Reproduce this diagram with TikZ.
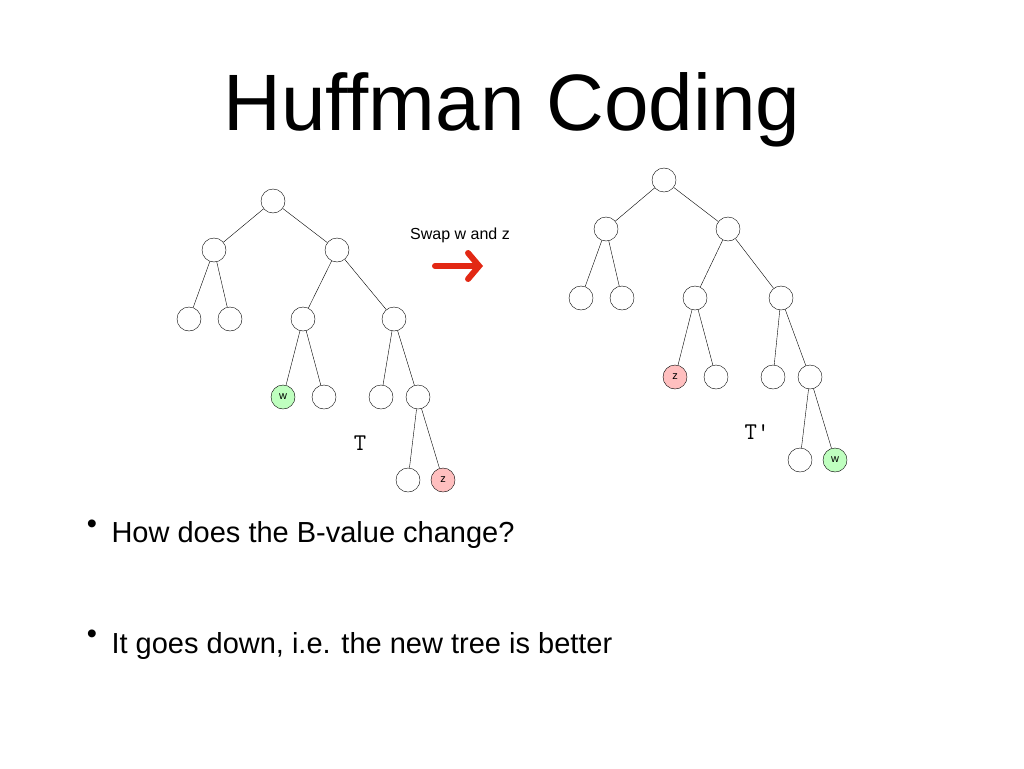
\documentclass[tikz,border=0pt]{standalone}
\usetikzlibrary{arrows.meta}
\usepackage{fontspec}
\setmainfont{Liberation Sans}
\definecolor{arrred}{RGB}{226,40,20}
\begin{document}
\begin{tikzpicture}[x=1pt,y=-1pt,
 nd/.style={circle,draw,thin,minimum size=24pt,inner sep=0pt,font=\fontsize{11}{11}\selectfont},
 gw/.style={nd,fill=green!25},
 rz/.style={nd,fill=red!25},
 ed/.style={thin},
 bl/.style={anchor=west,font=\fontsize{29}{29}\selectfont},
 dot/.style={font=\fontsize{29}{29}\selectfont}]
\useasboundingbox (0,0) rectangle (1024,768);
\node[font=\fontsize{80}{80}\selectfont] (title) at (512,110) {Huffman Coding};
% left tree
\node[nd] (a) at (273,201) {};
\node[nd] (b) at (214,250) {};
\node[nd] (c) at (337,250) {};
\node[nd] (d) at (189,319) {};
\node[nd] (e) at (230,319) {};
\node[nd] (f) at (303,319) {};
\node[nd] (g) at (394,319) {};
\node[gw] (w) at (283,397) {w};
\node[nd] (h) at (324,397) {};
\node[nd] (i) at (381,397) {};
\node[nd] (j) at (418,397) {};
\node[nd] (k) at (408,480) {};
\node[rz] (z) at (443,480) {z};
\foreach \p/\q in {a/b,a/c,b/d,b/e,c/f,c/g,f/w,f/h,g/i,g/j,j/k,j/z} \draw[ed] (\p)--(\q);
\node[font=\ttfamily\fontsize{24}{24}\selectfont] (T) at (360,443) {T};
% right tree
\node[nd] (A) at (664,180) {};
\node[nd] (B) at (606,229) {};
\node[nd] (C) at (728,229) {};
\node[nd] (D) at (581,298) {};
\node[nd] (E) at (622,298) {};
\node[nd] (F) at (695,298) {};
\node[nd] (G) at (781,298) {};
\node[rz] (Z) at (675,377) {z};
\node[nd] (H) at (716,377) {};
\node[nd] (I) at (773,377) {};
\node[nd] (J) at (810,377) {};
\node[nd] (K) at (800,460) {};
\node[gw] (W) at (835,460) {w};
\foreach \p/\q in {A/B,A/C,B/D,B/E,C/F,C/G,F/Z,F/H,G/I,G/J,J/K,J/W} \draw[ed] (\p)--(\q);
\node[font=\ttfamily\fontsize{24}{24}\selectfont] (Tp) at (757,432) {T'};
% arrow
\node[font=\fontsize{16}{16}\selectfont] (sw) at (460,235) {Swap w and z};
\coordinate (s1) at (435,266);
\coordinate (s2) at (483,266);
\draw[arrred,line width=6pt,line cap=round,-{Straight Barb[length=11pt,width=26pt,line cap=round]}] (s1)--(s2);
% bullets
\node[dot] (d1) at (92,527) {\textbullet};
\node[bl] (b1) at (108,535) {How does the B-value change?};
\node[dot] (d2) at (92,637) {\textbullet};
\node[bl] (b2) at (108,646) {It goes down, i.e. the new tree is better};
\end{tikzpicture}
\end{document}
